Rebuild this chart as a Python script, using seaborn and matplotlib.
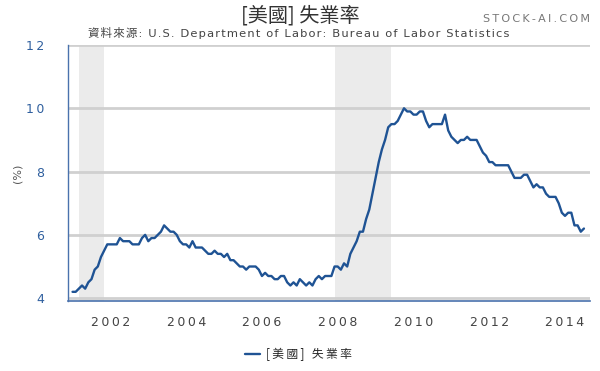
import matplotlib
matplotlib.use("Agg")
import matplotlib.pyplot as plt
import seaborn as sns
import pandas as pd
import numpy as np

# monthly US unemployment rate (%), Jan 2001 .. Jul 2014
rate = [
    4.2, 4.2, 4.3, 4.4, 4.3, 4.5, 4.6, 4.9, 5.0, 5.3, 5.5, 5.7,   # 2001
    5.7, 5.7, 5.7, 5.9, 5.8, 5.8, 5.8, 5.7, 5.7, 5.7, 5.9, 6.0,   # 2002
    5.8, 5.9, 5.9, 6.0, 6.1, 6.3, 6.2, 6.1, 6.1, 6.0, 5.8, 5.7,   # 2003
    5.7, 5.6, 5.8, 5.6, 5.6, 5.6, 5.5, 5.4, 5.4, 5.5, 5.4, 5.4,   # 2004
    5.3, 5.4, 5.2, 5.2, 5.1, 5.0, 5.0, 4.9, 5.0, 5.0, 5.0, 4.9,   # 2005
    4.7, 4.8, 4.7, 4.7, 4.6, 4.6, 4.7, 4.7, 4.5, 4.4, 4.5, 4.4,   # 2006
    4.6, 4.5, 4.4, 4.5, 4.4, 4.6, 4.7, 4.6, 4.7, 4.7, 4.7, 5.0,   # 2007
    5.0, 4.9, 5.1, 5.0, 5.4, 5.6, 5.8, 6.1, 6.1, 6.5, 6.8, 7.3,   # 2008
    7.8, 8.3, 8.7, 9.0, 9.4, 9.5, 9.5, 9.6, 9.8, 10.0, 9.9, 9.9,  # 2009
    9.8, 9.8, 9.9, 9.9, 9.6, 9.4, 9.5, 9.5, 9.5, 9.5, 9.8, 9.3,   # 2010
    9.1, 9.0, 8.9, 9.0, 9.0, 9.1, 9.0, 9.0, 9.0, 8.8, 8.6, 8.5,   # 2011
    8.3, 8.3, 8.2, 8.2, 8.2, 8.2, 8.2, 8.0, 7.8, 7.8, 7.8, 7.9,   # 2012
    7.9, 7.7, 7.5, 7.6, 7.5, 7.5, 7.3, 7.2, 7.2, 7.2, 7.0, 6.7,   # 2013
    6.6, 6.7, 6.7, 6.3, 6.3, 6.1, 6.2,                            # 2014
]
start_year = 2001
recessions = [(2001 + 2/12, 2001 + 10/12), (2007 + 11/12, 2009 + 5/12)]
xticks = [2002, 2004, 2006, 2008, 2010, 2012, 2014]
yticks = [4, 6, 8, 10, 12]

title = "[美國] 失業率"
source = "資料來源: U.S. Department of Labor: Bureau of Labor Statistics"
site = "STOCK-AI.COM"


def spaced(s, sep="\u200a"):
    # fake letter spacing
    return sep.join(s)


df = pd.DataFrame({
    "year": start_year + np.arange(len(rate)) / 12,
    "rate": rate,
})

sns.set_style("white")
plt.rcParams["font.family"] = ["DejaVu Sans", "Noto Sans CJK TC"]

blue = "#1f5394"
axis_blue = "#4a72ad"
cjk = ["Noto Sans CJK TC", "DejaVu Sans"]

fig = plt.figure(figsize=(6, 3.71), dpi=100)
ax = fig.add_axes([68/600, 1 - 301/371, (590 - 68)/600, (301 - 45)/371])

for a, b in recessions:
    ax.axvspan(a, b, color="#ebebeb", lw=0, zorder=0)

for y in yticks:
    ax.axhline(y, color="#d0d0d0", lw=2, zorder=1)

sns.lineplot(data=df, x="year", y="rate", ax=ax, color=blue, lw=1.7,
             label=spaced(title, "\u2009"), zorder=3)

ax.set_xlim(2000.88, 2014.66)
ax.set_ylim(3.91, 12)
ax.set_xticks(xticks)
ax.set_yticks(yticks)
ax.set_xlabel("")
ax.set_ylabel("(%)", color="#555555", fontsize=8)
ax.yaxis.set_label_coords(-0.088, 0.5)

for s in ["top", "right"]:
    ax.spines[s].set_visible(False)
ax.spines["left"].set_color(axis_blue)
ax.spines["left"].set_linewidth(1)
ax.spines["bottom"].set_color(axis_blue)
ax.spines["bottom"].set_linewidth(1.2)

ax.tick_params(axis="y", direction="in", length=4, width=1, color=axis_blue,
               labelcolor="#2f5f9e", labelsize=9, pad=17)
ax.tick_params(axis="x", direction="out", length=8, width=1, color="#a9bfdc",
               labelcolor="#444444", labelsize=9, pad=3)
ax.set_xticklabels([spaced(str(t), "\u2009") for t in xticks])
ax.set_yticklabels([spaced(str(t), "\u2009") for t in yticks])

fig.text(0.5, 0.958, title, ha="center", va="center", fontsize=14.5,
         color="#333333", family=cjk)
fig.text(0.498, 0.912, spaced(source), ha="center", va="center",
         fontsize=8.25, color="#444444",
         family=["DejaVu Sans", "Noto Sans CJK TC"])
fig.text(0.983, 0.95, spaced(site, "\u2009"), ha="right", va="center",
         fontsize=8, color="#777777")

ax.legend(loc="center", bbox_to_anchor=(0.497, 0.045),
          bbox_transform=fig.transFigure, frameon=False,
          handlelength=1.3, handletextpad=0.5,
          prop={"family": cjk, "size": 8.5})

fig.savefig("out.png", dpi=100)
